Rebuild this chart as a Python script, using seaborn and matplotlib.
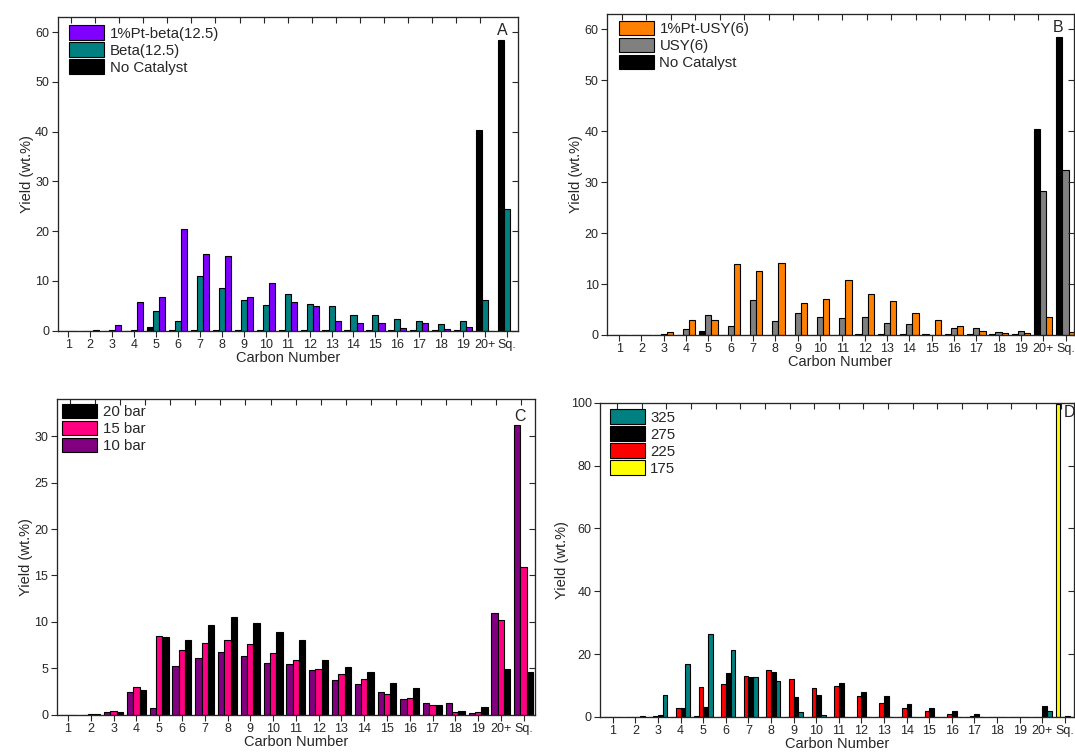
import numpy as np
import pandas as pd
import matplotlib
matplotlib.use("Agg")
import matplotlib.pyplot as plt
from matplotlib.patches import Patch
import seaborn as sns

# Product distribution by carbon number (yield, wt.%)
carbon_numbers = [str(i) for i in range(1, 20)] + ["20+", "Sq."]

# Panel A / B: zeolite catalysts vs. thermal run
no_catalyst = [0, 0, 0, 0, 0.75, 0.05, 0.05, 0.05, 0.05, 0.05, 0.05, 0.1, 0.1,
               0.1, 0.1, 0.1, 0.1, 0.1, 0.1, 40.4, 58.4]
pt_beta = [0, 0.1, 1.1, 5.7, 6.7, 20.5, 15.3, 15.0, 6.7, 9.5, 5.7, 4.9, 1.9,
           1.5, 1.5, 0.5, 1.5, 0.3, 0.7, 0, 0]
beta = [0, 0, 0.1, 0.1, 4.0, 1.9, 10.9, 8.6, 6.1, 5.1, 7.4, 5.3, 5.0,
        3.2, 3.1, 2.3, 2.0, 1.3, 2.0, 6.1, 24.5]
pt_usy = [0, 0, 0.5, 2.9, 3.0, 13.9, 12.5, 14.1, 6.3, 7.0, 10.7, 8.1, 6.6,
          4.3, 2.9, 1.8, 0.7, 0.3, 0.3, 3.5, 0.5]
usy = [0, 0, 0.2, 1.1, 3.9, 1.7, 6.8, 2.8, 4.4, 3.5, 3.3, 3.5, 2.3,
       2.1, 0, 1.3, 1.3, 0.6, 0.7, 28.2, 32.4]

# Panel C: hydrogen pressure
bar_10 = [0, 0, 0.3, 2.5, 0.7, 5.2, 6.1, 6.8, 6.3, 5.55, 5.45, 4.8, 3.75,
          3.3, 2.5, 1.7, 1.25, 1.3, 0.2, 11.0, 31.25]
bar_15 = [0, 0.05, 0.4, 3.0, 8.5, 7.0, 7.75, 8.0, 7.6, 6.65, 5.9, 4.9, 4.35,
          3.9, 2.2, 1.85, 1.05, 0.3, 0.3, 10.15, 15.95]
bar_20 = [0, 0.05, 0.3, 2.65, 8.4, 8.0, 9.65, 10.5, 9.85, 8.95, 8.1, 5.9, 5.15,
          4.65, 3.4, 2.9, 1.1, 0.45, 0.8, 4.95, 4.65]

# Panel D: reaction temperature
temp_325 = [0, 0.3, 7.0, 16.8, 26.3, 21.3, 12.8, 11.3, 1.6, 0.6, 0, 0, 0,
            0, 0, 0, 0, 0, 0, 1.8, 0]
temp_275 = [0, 0, 0.5, 2.9, 3.1, 14.0, 12.6, 14.2, 6.5, 7.0, 10.8, 8.1, 6.7,
            4.2, 3.0, 1.8, 0.85, 0.1, 0.1, 3.6, 0.4]
temp_225 = [0, 0, 0.4, 2.9, 9.7, 10.5, 13.1, 15.0, 12.1, 9.3, 10.0, 6.8, 4.5,
            2.75, 1.8, 0.95, 0.4, 0.1, 0.1, 0, 0]
temp_175 = [0, 0, 0, 0, 0.3, 0, 0, 0, 0, 0, 0, 0, 0,
            0, 0, 0, 0, 0, 0, 0, 99.5]

sns.set_style("ticks")
plt.rcParams["font.family"] = ["Liberation Sans", "DejaVu Sans"]
plt.rcParams["axes.linewidth"] = 0.8

panels = [
    dict(letter="A", rect=[0.0535, 0.5628, 0.4284, 0.4151],
         series=[("No Catalyst", no_catalyst, "#000000"),
                 ("Beta(12.5)", beta, "#008080"),
                 ("1%Pt-beta(12.5)", pt_beta, "#8000FF")],
         xlim=(-0.49, 20.5), ylim=(0, 63.1), yticks=np.arange(0, 61, 10),
         top=(0.12, 1.098, 18), letter_xy=(19.8, 60.3), leg=(0.026, 0.972)),
    dict(letter="B", rect=[0.5647, 0.5569, 0.4344, 0.4246],
         series=[("No Catalyst", no_catalyst, "#000000"),
                 ("USY(6)", usy, "#808080"),
                 ("1%Pt-USY(6)", pt_usy, "#FF8000")],
         xlim=(-0.54, 20.38), ylim=(0, 63.0), yticks=np.arange(0, 61, 10),
         top=(0.12, 1.097, 18), letter_xy=(19.66, 60.3), leg=(0.026, 0.979)),
    dict(letter="C", rect=[0.0527, 0.0546, 0.4450, 0.4176],
         series=[("10 bar", bar_10, "#800080"),
                 ("15 bar", bar_15, "#FF0080"),
                 ("20 bar", bar_20, "#000000")],
         xlim=(-0.5, 20.5), ylim=(0, 34.0), yticks=np.arange(0, 31, 5),
         top=(0.09, 1.1, 19), letter_xy=(19.84, 32.1), leg=(0.012, 0.985)),
    dict(letter="D", rect=[0.5581, 0.0516, 0.4409, 0.4157],
         series=[("175", temp_175, "#FFFF00"),
                 ("225", temp_225, "#FF0000"),
                 ("275", temp_275, "#000000"),
                 ("325", temp_325, "#008080")],
         xlim=(-0.57, 20.4), ylim=(0, 100), yticks=np.arange(0, 101, 20),
         top=(0.19, 1.09, 19), letter_xy=(20.22, 96.8), leg=(0.021, 0.979)),
]

fig = plt.figure(figsize=(10.75, 7.56), dpi=100)

for p in panels:
    ax = fig.add_axes(p["rect"])
    names = [s[0] for s in p["series"]]
    colors = [s[2] for s in p["series"]]
    df = pd.DataFrame({
        "carbon": np.tile(carbon_numbers, len(names)),
        "series": np.repeat(names, len(carbon_numbers)),
        "yield": np.concatenate([np.asarray(s[1], float) for s in p["series"]]),
    })
    sns.barplot(data=df, x="carbon", y="yield", hue="series",
                order=carbon_numbers, hue_order=names, palette=colors,
                width=0.83, saturation=1, edgecolor="black", linewidth=0.8,
                errorbar=None, legend=False, ax=ax)

    ax.set_xlim(*p["xlim"])
    ax.set_ylim(*p["ylim"])
    ax.set_yticks(p["yticks"])
    ax.tick_params(axis="both", direction="out", length=4, width=0.8,
                   labelsize=9, pad=2, top=False, right=False)
    ax.set_xlabel("Carbon Number", fontsize=10.5, labelpad=0)
    ax.set_ylabel("Yield (wt.%)", fontsize=10.5, labelpad=1)
    for sp in ax.spines.values():
        sp.set_visible(True)
        sp.set_linewidth(0.8)

    # mirrored inner ticks on the top and right frame
    t0, dt, nt = p["top"]
    axt = ax.twiny()
    axt.set_xlim(*p["xlim"])
    axt.set_xticks([t0 + dt * k for k in range(nt)])
    axt.tick_params(axis="x", direction="in", length=4, width=0.8,
                    labeltop=False, top=True, bottom=False)
    axr = ax.twinx()
    axr.set_ylim(*p["ylim"])
    axr.set_yticks(p["yticks"])
    axr.tick_params(axis="y", direction="in", length=4, width=0.8,
                    labelright=False, right=True, left=False)

    ax.text(*p["letter_xy"], p["letter"], ha="center", va="center",
            fontsize=11.5)

    handles = [Patch(facecolor=c, edgecolor="black", linewidth=0.8)
               for c in colors][::-1]
    axt.legend(handles, names[::-1], loc="upper left",
               bbox_to_anchor=p["leg"], frameon=False, borderaxespad=0,
               borderpad=0, handlelength=2.33, handleheight=1.13,
               labelspacing=0.1, handletextpad=0.35, fontsize=10.8)

fig.savefig("out.png", dpi=100)
